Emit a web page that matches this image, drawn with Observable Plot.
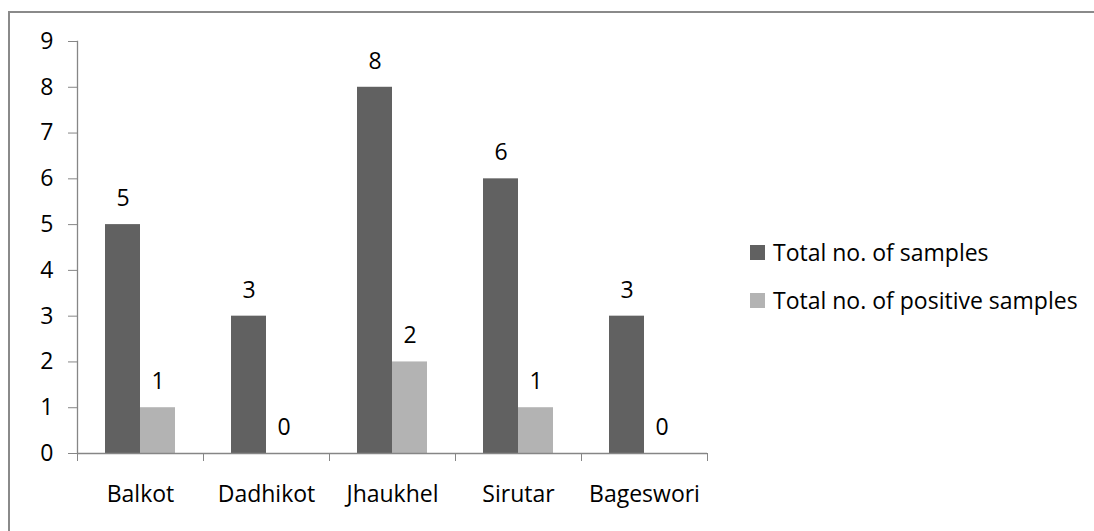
<!DOCTYPE html>
<html>
<head>
<meta charset="utf-8">
<script src="https://cdn.jsdelivr.net/npm/d3@7"></script>
<script src="https://cdn.jsdelivr.net/npm/@observablehq/plot@0.6"></script>
<style>
  html, body { margin: 0; padding: 0; background: #fff; overflow: hidden; }
  #wrap { position: relative; width: 1094px; height: 531px; overflow: hidden; font-family: "Open Sans", sans-serif; }
  #border { position: absolute; left: 8px; top: 11px; width: 1100px; height: 540px; border: 2px solid #8a8a8a; box-sizing: border-box; }
  #chart { position: absolute; left: 0; top: 0; }
  #legend { position: absolute; left: 750px; top: 228px; font-size: 23px; color: #000; }
  .item { display: flex; align-items: center; height: 48px; }
  .sw { width: 15px; height: 15px; margin-right: 8px; }
</style>
</head>
<body>
<div id="wrap">
  <div id="border"></div>
  <div id="chart"></div>
  <div id="legend"></div>
</div>
<script>
const categories = ["Balkot", "Dadhikot", "Jhaukhel", "Sirutar", "Bageswori"];
const seriesNames = ["Total no. of samples", "Total no. of positive samples"];
const totalSamples = [5, 3, 8, 6, 3];
const positiveSamples = [1, 0, 2, 1, 0];
const seriesColors = ["#616161", "#b3b3b3"];
const yTicks = [0, 1, 2, 3, 4, 5, 6, 7, 8, 9];

const data = [];
categories.forEach((c, i) => {
  data.push({category: c, series: seriesNames[0], value: totalSamples[i]});
  data.push({category: c, series: seriesNames[1], value: positiveSamples[i]});
});

const W = 1094, H = 531;
const ml = 77, mr = 387, mt = 41, mb = 78;
const step = (W - ml - mr) / categories.length;
const axisGray = "#868686";
const fs = 23;

const chart = Plot.plot({
  width: W,
  height: H,
  marginLeft: ml,
  marginRight: mr,
  marginTop: mt,
  marginBottom: mb,
  style: {fontFamily: "'Open Sans', sans-serif", fontSize: fs + "px", color: "#000", background: "transparent"},
  fx: {domain: categories, padding: 0, axis: null, label: null},
  x: {domain: seriesNames, paddingInner: 0, paddingOuter: 0.775, axis: null},
  y: {domain: [0, 9], axis: null},
  color: {domain: seriesNames, range: seriesColors},
  marks: [
    Plot.barY(data, {fx: "category", x: "series", y: "value", fill: "series"}),
    Plot.frame({anchor: "left", facetAnchor: "left", stroke: axisGray, strokeWidth: 1.3}),
    Plot.ruleY([0], {stroke: axisGray, strokeWidth: 1.3}),
    Plot.axisY({ticks: yTicks, tickSize: 9, tickPadding: 15, stroke: axisGray, fill: "#000", label: null, fontSize: fs}),
    Plot.axisFx({anchor: "bottom", tickSize: 0, tickPadding: 32, label: null, fill: "#000", fontSize: fs}),
    Plot.axisFx({anchor: "bottom", tickSize: 8, tickFormat: () => "", dx: -step / 2, stroke: axisGray, label: null}),
    Plot.axisFx({anchor: "bottom", ticks: [categories[categories.length - 1]], tickSize: 8, tickFormat: () => "", dx: step / 2, stroke: axisGray, label: null}),
    Plot.text(data, {fx: "category", x: "series", y: "value", text: d => String(d.value), dy: -26, fill: "#000", fontSize: fs})
  ]
});
document.getElementById("chart").appendChild(chart);

const legend = document.getElementById("legend");
seriesNames.forEach((name, i) => {
  const item = document.createElement("div");
  item.className = "item";
  const sw = document.createElement("div");
  sw.className = "sw";
  sw.style.background = seriesColors[i];
  const label = document.createElement("span");
  label.textContent = name;
  item.appendChild(sw);
  item.appendChild(label);
  legend.appendChild(item);
});
</script>
</body>
</html>
